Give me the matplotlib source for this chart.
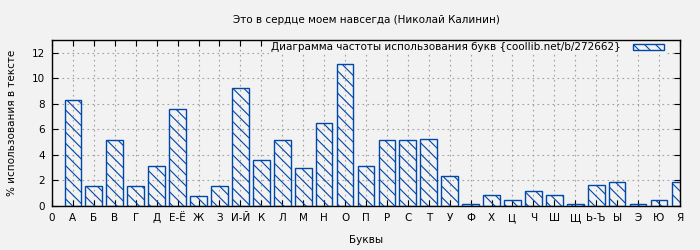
import numpy as np
import matplotlib
matplotlib.use("Agg")
import matplotlib.pyplot as plt

# data
letters = ['0', 'А', 'Б', 'В', 'Г', 'Д', 'Е-Ё', 'Ж', 'З', 'И-Й', 'К', 'Л', 'М', 'Н', 'О',
           'П', 'Р', 'С', 'Т', 'У', 'Ф', 'Х', 'Ц', 'Ч', 'Ш', 'Щ', 'Ь-Ъ', 'Ы', 'Э', 'Ю', 'Я']
values = [8.32, 1.59, 5.14, 1.54, 3.16, 7.61, 0.81, 1.59, 9.26, 3.57, 5.14, 2.95, 6.52,
          11.13, 3.10, 5.14, 5.14, 5.27, 2.37, 0.18, 0.83, 0.44, 1.15, 0.89, 0.18, 1.67,
          1.85, 0.18, 0.50, 1.90]
title = 'Это в сердце моем навсегда (Николай Калинин)'
legend_label = 'Диаграмма частоты использования букв {coollib.net/b/272662}'

bg = '#f2f2f2'
blue = '#0047ab'
fs = 7.5

plt.rcParams['font.family'] = ['DejaVu Sans']
plt.rcParams['hatch.linewidth'] = 0.8

fig = plt.figure(figsize=(7, 2.5), dpi=100, facecolor=bg)
ax = fig.add_axes([0.0743, 0.176, 0.897, 0.664], facecolor=bg)
ax.set_axisbelow(True)

x = np.arange(1, len(values) + 1)
ax.bar(x, values, width=0.8, facecolor='none', edgecolor=blue, linewidth=1.0,
       hatch='\\\\\\', label=legend_label, zorder=3)

ax.set_xlim(0, 30)
ax.set_ylim(0, 13)
ax.set_xticks(np.arange(len(letters)))
ax.set_xticklabels(letters)
ax.set_yticks(np.arange(0, 13, 2))

ax.tick_params(direction='in', length=4, width=0.8, labelsize=fs, top=True, right=True,
               pad=5)
ax.grid(True, color='#a0a0a0', linestyle=(0, (1.5, 3)), linewidth=0.8)
for s in ax.spines.values():
    s.set_linewidth(1.0)

ax.set_title(title, fontsize=fs, pad=12)
ax.set_xlabel('Буквы', fontsize=fs, labelpad=9)
ax.set_ylabel('% использования в тексте', fontsize=fs, labelpad=11)

# opaque key box hides the grid behind the text, as in the original
leg = ax.legend(loc='upper right', bbox_to_anchor=(0.9777, 0.999), frameon=True,
                facecolor=bg, edgecolor='none', framealpha=1, fancybox=False,
                markerfirst=False, fontsize=fs, handlelength=3.0, handleheight=0.5,
                borderpad=0.2, borderaxespad=0, handletextpad=1.15)
leg.set_zorder(2)

fig.savefig('out.png', dpi=100, facecolor=bg)
